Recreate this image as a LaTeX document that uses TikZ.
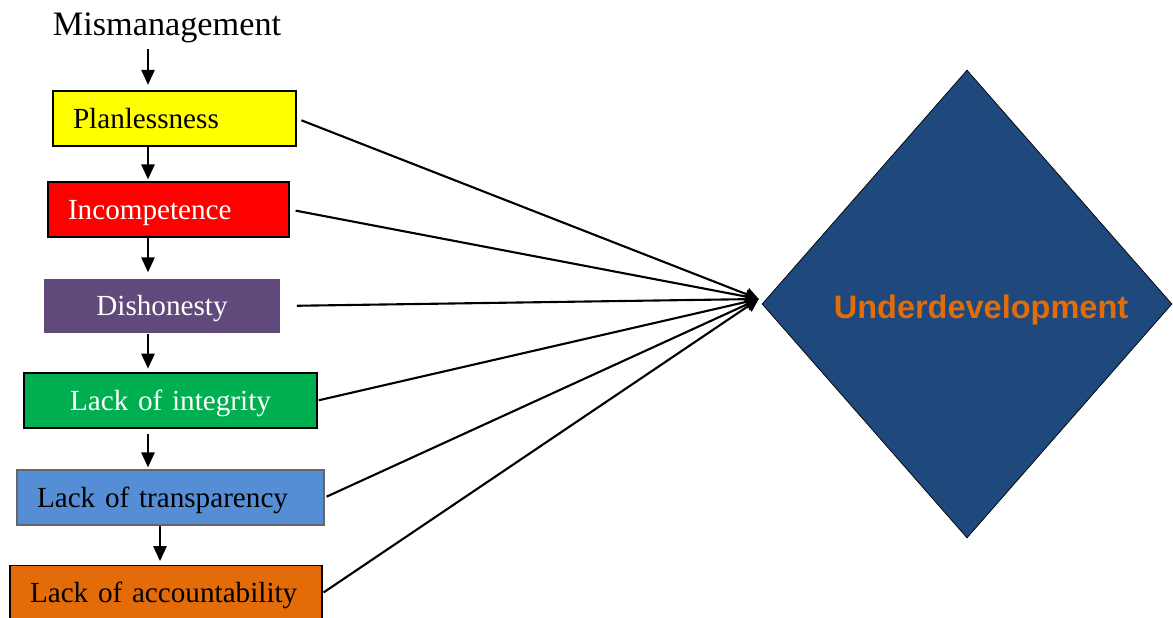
\documentclass[tikz,border=0pt]{standalone}
\usepackage{fontspec}
\setmainfont{Liberation Serif}
\newfontfamily\headfont{Liberation Sans}
\usepackage{xcolor}
\usepackage{tikz}
\usetikzlibrary{calc,arrows.meta}
\usetikzlibrary{positioning,shapes.geometric}

\definecolor{planyellow}{HTML}{FFFF00}
\definecolor{incred}{HTML}{FF0000}
\definecolor{dishpurple}{HTML}{604A7B}
\definecolor{integgreen}{HTML}{00B050}
\definecolor{transpblue}{HTML}{558ED5}
\definecolor{accorange}{HTML}{E36C09}
\definecolor{undernavy}{HTML}{1F497D}

\begin{document}
\begin{tikzpicture}[
        x=0.02cm, y=-0.02cm,
        cause/.style={draw, line width=0.9pt, minimum height=1.1cm, inner xsep=0.4cm, inner ysep=0pt,
            text height=11pt, text depth=0pt, font=\fontsize{16.6}{19}\selectfont},
        feed/.style={-{Triangle[length=3mm,width=2.6mm]}, line width=1.4pt},
        link/.style={-{Triangle[length=2.6mm,width=2.6mm]}, line width=1.2pt},
    ]
        \useasboundingbox (0,0) rectangle (1173,618);

        \node[font=\fontsize{19.5}{22}\selectfont] (mism) at (167,28) {Mismanagement};

        \node[cause, fill=planyellow, text width=4.06cm, align=left] (plan) at (174.5,118.5) {Planlessness};
        \node[cause, fill=incred, text=white, text width=4.02cm, align=left] (inc) at (168.5,209.5) {Incompetence};
        \node[cause, draw=none, fill=dishpurple, text=white, text width=3.92cm, align=center] (dish) at (162,306) {Dishonesty};
        \node[cause, fill=integgreen, text=white, text width=5.06cm, align=center] (integ) at (170.5,400.5) {Lack of integrity};
        \node[cause, draw=black!60, fill=transpblue, text width=5.34cm, align=left] (transp) at (170.5,497.5) {Lack of transparency};
        \node[cause, fill=accorange, text width=5.44cm, align=left] (acc) at (166,593) {Lack of accountability};

        \node[diamond, draw, thin, fill=undernavy, inner sep=0pt, minimum width=8.2cm, minimum height=9.36cm, aspect=0.876] (under) at (967,304) {};
        \node[font=\headfont\bfseries\fontsize{18.5}{22}\selectfont, text=accorange] (underlbl) at (981,310) {Underdevelopment};

        % vertical chain
        \coordinate (spine) at (148,0);
        \coordinate (spineb) at (160,0);
        \draw[feed] (mism.south -| spine) -- ([yshift=3pt]plan.north -| spine);
        \draw[feed] (plan.south -| spine) -- ([yshift=1pt]inc.north -| spine);
        \draw[feed] (inc.south -| spine) -- ([yshift=3pt]dish.north -| spine);
        \draw[feed] (dish.south -| spine) -- ([yshift=2pt]integ.north -| spine);
        \draw[feed] ([yshift=-3pt]integ.south -| spine) -- ([yshift=1pt]transp.north -| spine);
        \draw[feed] (transp.south -| spineb) -- ([yshift=2pt]acc.north -| spineb);

        % causes into the diamond
        \coordinate (hub) at ([shift={(-3,-5)}]under.west);
        \foreach \src/\gap in {plan/5,inc/6,dish/16,integ/1,transp/2,acc/1}
            \draw[link, shorten <=\gap*0.02cm] (\src.east) -- (hub);
    \end{tikzpicture}
\end{document}
